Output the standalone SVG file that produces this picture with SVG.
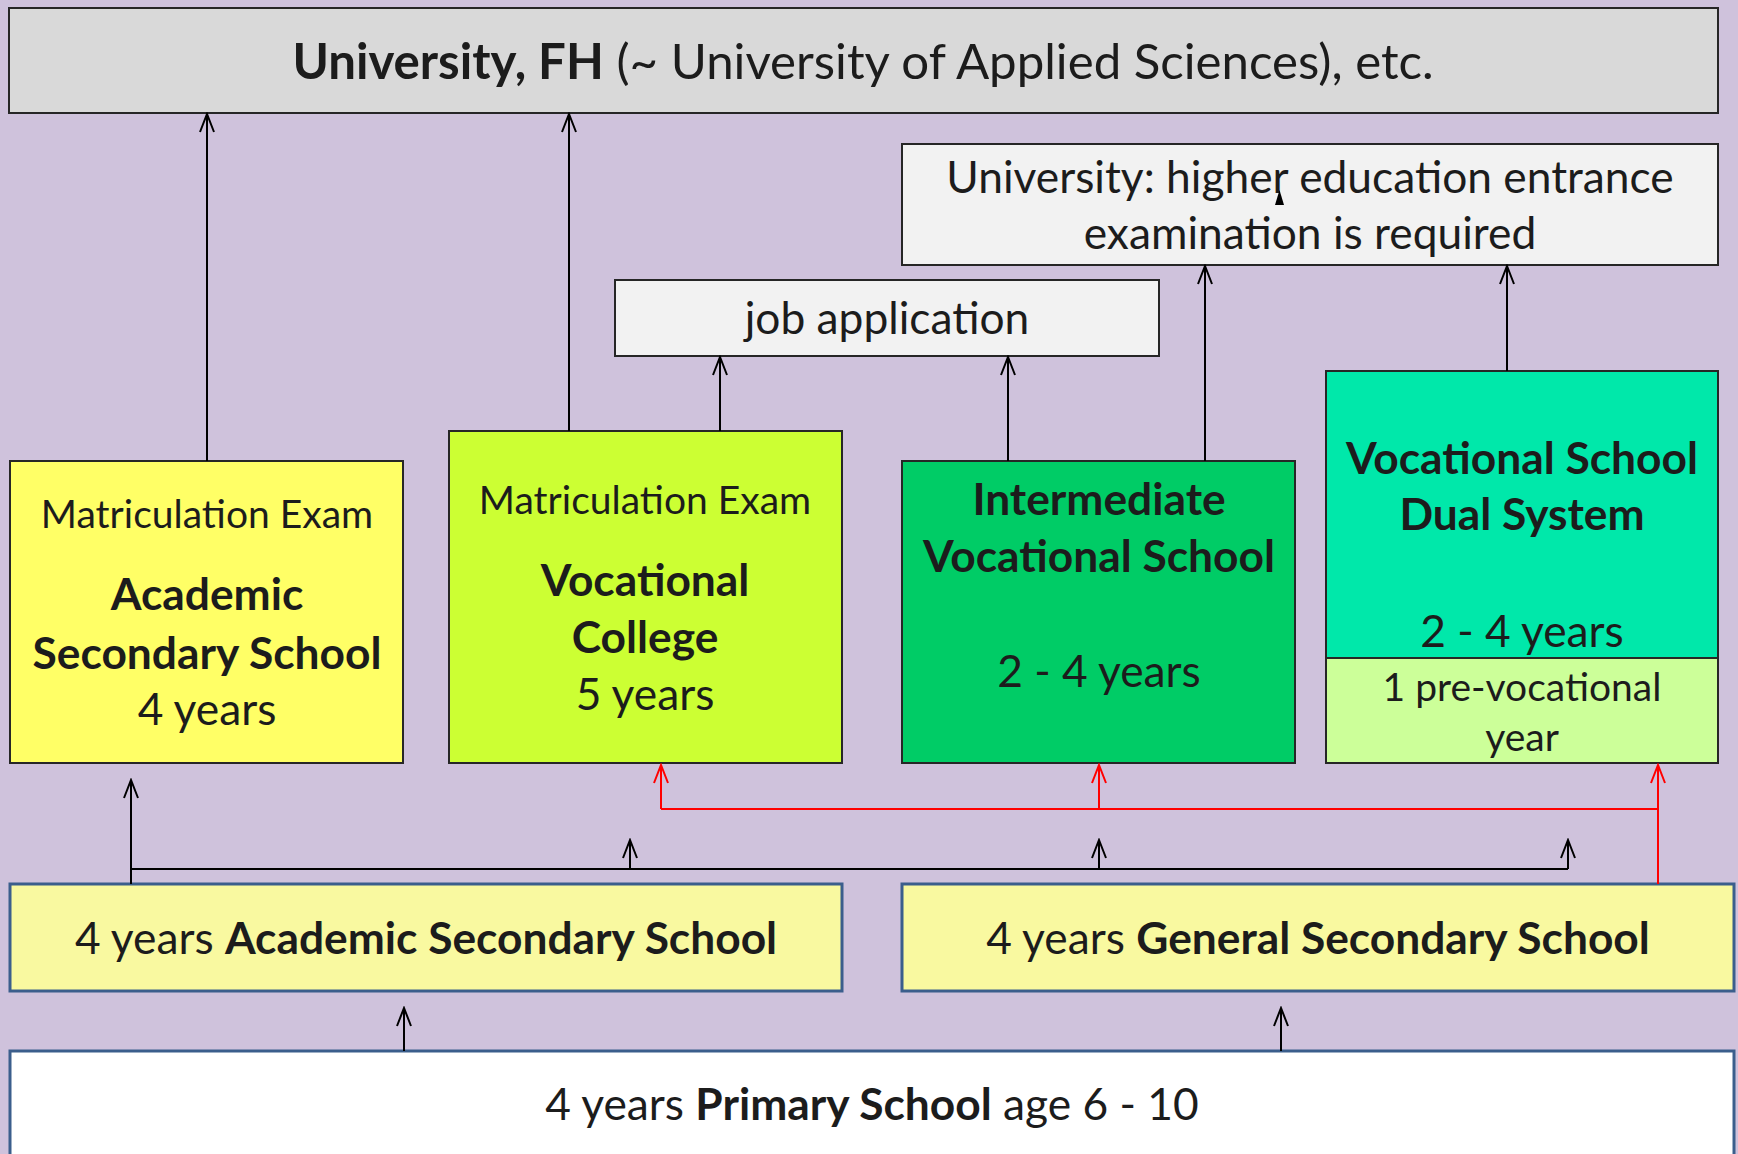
<svg xmlns="http://www.w3.org/2000/svg" width="1738" height="1154" viewBox="0 0 1738 1154">
<style>
  text { font-family: Lato, "Open Sans", "Liberation Sans", sans-serif; fill: #1c1c1c; text-anchor: middle; }
  .b { font-weight: bold; }
  .box { stroke: #262626; stroke-width: 2; }
  .sbox { stroke: #3b5e8c; stroke-width: 3; }
  .c { stroke: #000; stroke-width: 2; fill: none; }
  .r { stroke: #ff0000; stroke-width: 2; fill: none; }
  .t44 { font-size: 44.3px; }
  .t40 { font-size: 44.3px; }
  .t36 { font-size: 39px; }
</style>
<defs>
  <marker id="ah" markerUnits="userSpaceOnUse" viewBox="-20 -10 22 20" refX="0" refY="0" markerWidth="22" markerHeight="20" orient="auto">
    <path d="M-18,-7 L0,0 L-18,7" fill="none" stroke="#000" stroke-width="2"/>
  </marker>
  <marker id="ahr" markerUnits="userSpaceOnUse" viewBox="-20 -10 22 20" refX="0" refY="0" markerWidth="22" markerHeight="20" orient="auto">
    <path d="M-18,-7 L0,0 L-18,7" fill="none" stroke="#ff0000" stroke-width="2"/>
  </marker>
</defs>
<rect x="0" y="0" width="1738" height="1154" fill="#cfc2dc"/>

<g id="university">
  <rect class="box" x="9" y="8" width="1709" height="105" fill="#d9d9d9"/>
  <text x="863" y="79" font-size="49.2"><tspan class="b">University, FH</tspan> (~ University of Applied Sciences), etc.</text>
</g>

<g id="entrance">
  <rect class="box" x="902" y="144" width="816" height="121" fill="#f2f2f2"/>
  <text class="t44" x="1310" y="193">University: higher education entrance</text>
  <text class="t44" x="1310" y="249">examination is required</text>
  <path d="M1275,205 L1279.5,190 L1284,205 Z" fill="#000"/>
</g>

<g id="job">
  <rect class="box" x="615" y="280" width="544" height="76" fill="#f2f2f2"/>
  <text class="t44" x="887" y="334">job application</text>
</g>

<g id="academic">
  <rect class="box" x="10" y="461" width="393" height="302" fill="#ffff66"/>
  <text class="t36" x="207" y="528">Matriculation Exam</text>
  <text class="t40 b" x="207" y="610">Academic</text>
  <text class="t40 b" x="207" y="669">Secondary School</text>
  <text class="t40" x="207" y="725">4 years</text>
</g>

<g id="voccollege">
  <rect class="box" x="449" y="431" width="393" height="332" fill="#ccff33"/>
  <text class="t36" x="645" y="514">Matriculation Exam</text>
  <text class="t40 b" x="645" y="596">Vocational</text>
  <text class="t40 b" x="645" y="653">College</text>
  <text class="t40" x="645" y="710">5 years</text>
</g>

<g id="intermediate">
  <rect class="box" x="902" y="461" width="393" height="302" fill="#00cc66"/>
  <text class="t40 b" x="1099" y="515">Intermediate</text>
  <text class="t40 b" x="1099" y="572">Vocational School</text>
  <text class="t40" x="1099" y="687">2 - 4 years</text>
</g>

<g id="dual">
  <rect class="box" x="1326" y="371" width="392" height="287" fill="#00e8aa"/>
  <rect class="box" x="1326" y="658" width="392" height="105" fill="#ccff99"/>
  <text class="t40 b" x="1522" y="474">Vocational School</text>
  <text class="t40 b" x="1522" y="530">Dual System</text>
  <text class="t40" x="1522" y="647">2 - 4 years</text>
  <text class="t36" x="1522" y="701">1 pre-vocational</text>
  <text class="t36" x="1522" y="751">year</text>
</g>

<g id="acadsec">
  <rect class="sbox" x="10" y="884" width="832" height="107" fill="#f9f9a0"/>
  <text class="t44" x="426" y="954">4 years <tspan class="b">Academic Secondary School</tspan></text>
</g>

<g id="gensec">
  <rect class="sbox" x="902" y="884" width="832" height="107" fill="#f9f9a0"/>
  <text class="t44" x="1318" y="954">4 years <tspan class="b">General Secondary School</tspan></text>
</g>

<g id="primary">
  <rect class="sbox" x="10" y="1051" width="1724" height="120" fill="#ffffff"/>
  <text class="t44" x="872" y="1120">4 years <tspan class="b">Primary School</tspan> age 6 - 10</text>
</g>

<g id="connectors">
  <line class="c" x1="207" y1="461" x2="207" y2="114" marker-end="url(#ah)"/>
  <line class="c" x1="569" y1="431" x2="569" y2="114" marker-end="url(#ah)"/>
  <line class="c" x1="720" y1="431" x2="720" y2="357" marker-end="url(#ah)"/>
  <line class="c" x1="1008" y1="461" x2="1008" y2="357" marker-end="url(#ah)"/>
  <line class="c" x1="1205" y1="461" x2="1205" y2="266" marker-end="url(#ah)"/>
  <line class="c" x1="1507" y1="371" x2="1507" y2="266" marker-end="url(#ah)"/>

  <line class="c" x1="131" y1="884" x2="131" y2="780" marker-end="url(#ah)"/>
  <line class="c" x1="131" y1="869" x2="1568" y2="869" stroke-width="2.5"/>
  <line class="c" x1="630" y1="869" x2="630" y2="840" marker-end="url(#ah)"/>
  <line class="c" x1="1099" y1="869" x2="1099" y2="840" marker-end="url(#ah)"/>
  <line class="c" x1="1568" y1="869" x2="1568" y2="840" marker-end="url(#ah)"/>

  <line class="r" x1="1658" y1="884" x2="1658" y2="765" marker-end="url(#ahr)"/>
  <line class="r" x1="661" y1="809" x2="1658" y2="809" stroke-width="2.5"/>
  <line class="r" x1="661" y1="809" x2="661" y2="765" marker-end="url(#ahr)"/>
  <line class="r" x1="1099" y1="809" x2="1099" y2="765" marker-end="url(#ahr)"/>

  <line class="c" x1="404" y1="1051" x2="404" y2="1008" marker-end="url(#ah)"/>
  <line class="c" x1="1281" y1="1051" x2="1281" y2="1008" marker-end="url(#ah)"/>
</g>
</svg>
